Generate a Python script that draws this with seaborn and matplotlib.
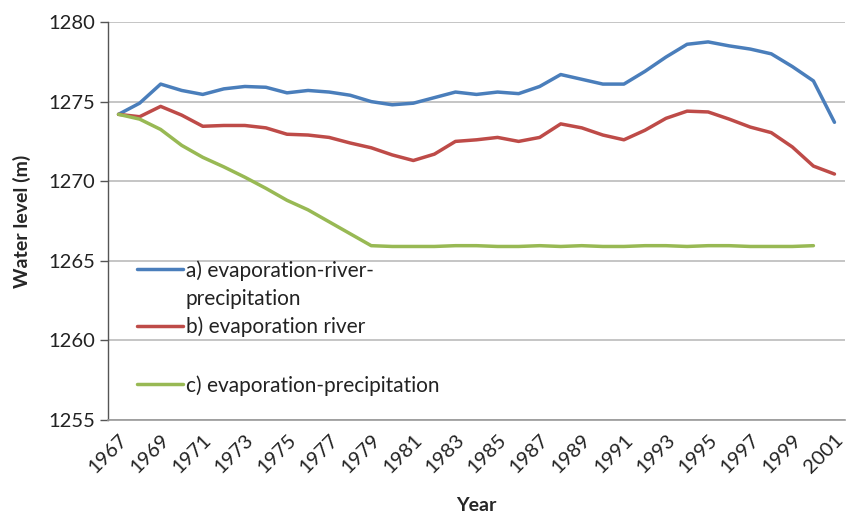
import numpy as np
import pandas as pd
import matplotlib
matplotlib.use("Agg")
import matplotlib.pyplot as plt
import seaborn as sns
from matplotlib.lines import Line2D

years = list(range(1967, 2002))
series_a = [1274.2, 1274.9, 1276.1, 1275.7, 1275.45, 1275.8, 1275.95, 1275.9, 1275.55, 1275.7,
            1275.6, 1275.4, 1275.0, 1274.8, 1274.9, 1275.25, 1275.6, 1275.45, 1275.6, 1275.5,
            1275.95, 1276.7, 1276.4, 1276.1, 1276.1, 1276.9, 1277.8, 1278.6, 1278.75, 1278.5,
            1278.3, 1278.0, 1277.2, 1276.3, 1273.7]
series_b = [1274.2, 1274.05, 1274.7, 1274.15, 1273.45, 1273.5, 1273.5, 1273.35, 1272.95, 1272.9,
            1272.75, 1272.4, 1272.1, 1271.65, 1271.3, 1271.7, 1272.5, 1272.6, 1272.75, 1272.5,
            1272.75, 1273.6, 1273.35, 1272.9, 1272.6, 1273.2, 1273.95, 1274.4, 1274.35, 1273.9,
            1273.4, 1273.05, 1272.15, 1270.95, 1270.45]
series_c = [1274.2, 1273.9, 1273.25, 1272.25, 1271.5, 1270.9, 1270.25, 1269.55, 1268.8, 1268.2,
            1267.45, 1266.7, 1265.95, 1265.9, 1265.9, 1265.9, 1265.95, 1265.95, 1265.9, 1265.9,
            1265.95, 1265.9, 1265.95, 1265.9, 1265.9, 1265.95, 1265.95, 1265.9, 1265.95, 1265.95,
            1265.9, 1265.9, 1265.9, 1265.95, np.nan]
labels = ["a) evaporation-river-precipitation", "b) evaporation river", "c) evaporation-precipitation"]
legend_a_lines = ["a) evaporation-river-", "precipitation"]
colors = ["#4A7EBB", "#BE4B48", "#98B954"]
xtick_labels = [str(y) for y in range(1967, 2002, 2)]
yticks = [1255, 1260, 1265, 1270, 1275, 1280]

df = pd.DataFrame({"Year": years, labels[0]: series_a, labels[1]: series_b, labels[2]: series_c})
long = df.melt(id_vars="Year", var_name="Scenario", value_name="Level")

sns.set_theme(style="white")
plt.rcParams["font.family"] = ["Lato", "DejaVu Sans"]

fig = plt.figure(figsize=(8.46, 5.17), dpi=100)
W, H = 846, 517
ax = fig.add_axes([108 / W, 1 - 420 / H, (845 - 108) / W, (420 - 22) / H])

sns.lineplot(data=long, x="Year", y="Level", hue="Scenario", palette=colors,
             hue_order=labels, linewidth=2.5, ax=ax, legend=False)

ax.set_xlim(1966.5, 2001.5)
ax.set_ylim(1255, 1280)
ax.set_yticks(yticks)
ax.set_yticklabels([str(v) for v in yticks], fontsize=14.5, color="#222222")
ax.set_xticks(list(range(1967, 2002, 2)))
ax.set_xticklabels(xtick_labels, rotation=45, ha="right", rotation_mode="anchor",
                   fontsize=14.5, color="#222222")
ax.tick_params(axis="y", which="both", left=True, length=6, width=1, color="#555555", pad=3)
ax.tick_params(axis="x", length=0, pad=8)
ax.yaxis.grid(True, color="#BBBBBB", linewidth=1.2)
ax.xaxis.grid(False)
for s in ["top", "right"]:
    ax.spines[s].set_visible(False)
ax.spines["left"].set_color("#555555")
ax.spines["left"].set_linewidth(1.0)
ax.spines["bottom"].set_color("#999999")
ax.spines["bottom"].set_linewidth(1.2)

ax.set_xlabel("Year", fontsize=14, fontweight="bold", labelpad=15)
ax.set_ylabel("Water level (m)", fontsize=14, fontweight="bold", labelpad=13)

h = [Line2D([0], [0], color=c, lw=2.5) for c in colors]
blank = Line2D([0], [0], color="none", lw=0)
x0 = (137 - 108) / 737
leg1 = ax.legend([h[0], blank, h[1]], [legend_a_lines[0], legend_a_lines[1], labels[1]],
                 loc="upper left", bbox_to_anchor=(x0, (420 - 260) / 398),
                 frameon=False, fontsize=15, handlelength=2.2, handletextpad=0.15,
                 borderpad=0, borderaxespad=0, labelspacing=0.38)
for t in leg1.get_texts():
    t.set_color("#222222")
ax.add_artist(leg1)
leg2 = ax.legend(h[2:], labels[2:], loc="upper left", bbox_to_anchor=(x0, (420 - 375) / 398),
                 frameon=False, fontsize=15, handlelength=2.2, handletextpad=0.15,
                 borderpad=0, borderaxespad=0)
for t in leg2.get_texts():
    t.set_color("#222222")

fig.savefig("out.png", dpi=100)
